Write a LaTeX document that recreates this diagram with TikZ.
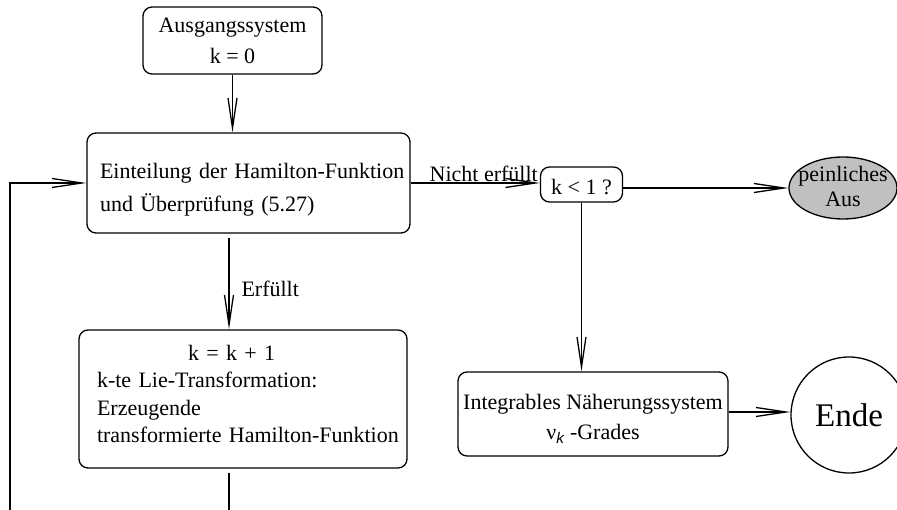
\documentclass[tikz,border=0pt]{standalone}
\usepackage{fontspec}
\setmainfont{Liberation Serif}
\newfontfamily\lsans{Liberation Sans}
\usetikzlibrary{arrows.meta,shapes.geometric}
\definecolor{ellgray}{RGB}{192,192,192}
\begin{document}
\begin{tikzpicture}[x=1pt,y=-1pt,
  every node/.style={font=\fontsize{22}{27}\selectfont},
  box/.style={draw, line width=1.3pt, rounded corners=9pt, inner sep=0pt},
  ln/.style={line width=1.3pt},
  arr/.style={line width=1.3pt, -{Straight Barb[length=30pt,width=9pt,line width=1.3pt]}}]
\useasboundingbox (0,0) rectangle (897,510);
\clip (0,0) rectangle (897,510);

\node[box, minimum width=179pt, minimum height=67pt, align=center] (aus) at (232.5,40.5)
  {Ausgangssystem\\[4pt]k = 0};
\node[box, minimum width=323pt, minimum height=100pt, text width=297pt, align=left] (ein) at (248.5,183)
  {\mbox{\rule{0pt}{29pt}Einteilung der Hamilton-Funktion}\\[6pt]\mbox{und Überprüfung (5.27)}};
\node[box, minimum width=82pt, minimum height=35pt] (k) at (581.5,184.5) {\rule{0pt}{20pt}k < 1 ?};
\node[draw, ellipse, line width=1.3pt, fill=ellgray, minimum width=108pt, minimum height=62pt, inner sep=0pt] (pa) at (843,188) {};
\node[align=center, font=\fontsize{22}{25}\selectfont, yshift=2pt] (patext) at (pa.center) {peinliches\\Aus};
\node[box, minimum width=328pt, minimum height=138pt, text width=292pt, align=left] (lie) at (243,399)
  {\mbox{\hspace*{91pt}k = k + 1}\\[0.5pt]\mbox{k-te Lie-Transformation:}\\[0.5pt]\mbox{Erzeugende}\\[0.5pt]\mbox{transformierte Hamilton-Funktion\rule[-10pt]{0pt}{10pt}}};
\node[box, minimum width=270pt, minimum height=84pt, align=center] (integ) at (593,414)
  {\rule{0pt}{25pt}Integrables Näherungssystem\\[3pt]ν\textsubscript{\lsans\itshape k} -Grades};
\node[draw, circle, line width=1.3pt, minimum size=116pt, inner sep=0pt, font=\fontsize{33}{36}\selectfont] (ende) at (849,415) {Ende};

\coordinate (loopB) at (10,510);
\coordinate (lieB) at (229,510);

\draw[arr] (aus.south) -- (aus.south |- ein.north);
\draw[arr] (loopB) |- (ein.west);
\draw[ln, shorten <=4pt] (lieB |- lie.south) -- (lieB);
\draw[arr, shorten <=4pt] (lieB |- ein.south) -- (lieB |- lie.north);
\node[anchor=west] (erf) at (238,289) {Erfüllt};
\draw[arr] (ein.east) -- (ein.east -| k.west);
\node[anchor=south east, inner sep=1pt] (ne) at (539,183) {Nicht erfüllt};
\draw[arr] (k.east |- pa.west) -- (pa.west);
\draw[arr] (k.south) -- (k.south |- integ.north);
\draw[arr] (integ.east |- 0,412) -- (ende.west |- 0,412);
\end{tikzpicture}
\end{document}
